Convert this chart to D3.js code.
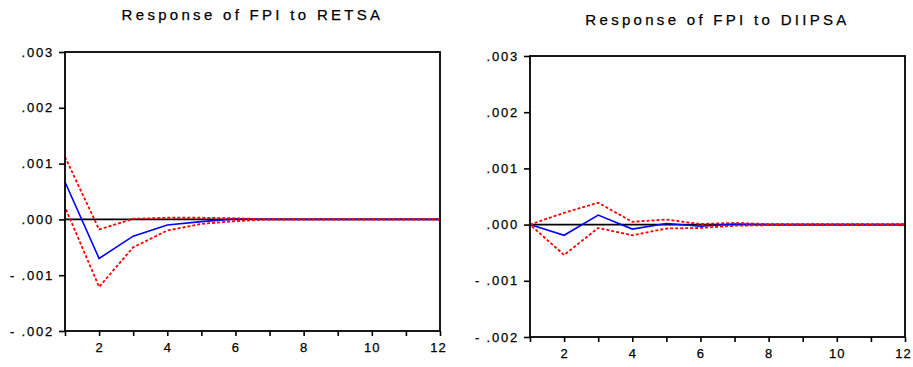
<!DOCTYPE html>
<html>
<head>
<meta charset="UTF-8">
<script src="https://cdn.jsdelivr.net/npm/d3@7"></script>
<style>
  body { margin: 0; background: #fff; }
  .title { font-family: "Liberation Sans", Arial, sans-serif; font-size: 15px; letter-spacing: 3.3px; fill: #000; stroke: #000; stroke-width: 0.25px; }
  .tick text { font-family: "Liberation Sans", Arial, sans-serif; font-size: 13px; letter-spacing: 1.8px; fill: #000; stroke: #000; stroke-width: 0.25px; }
  .x-axis .tick text { letter-spacing: 1px; }
</style>
</head>
<body>
<svg id="chart" width="913" height="367"></svg>
<script>
// horizon (periods)
var periods = [1, 2, 3, 4, 5, 6, 7, 8, 9, 10, 11, 12];
var yTicks = [-0.002, -0.001, 0, 0.001, 0.002, 0.003];
var yTickLabels = ["- .002", "- .001", ".000", ".001", ".002", ".003"];
var xTickLabels = ["", "2", "", "4", "", "6", "", "8", "", "10", "", "12"];

// Response of FPI to RETSA
var retsaResp  = [0.00067, -0.00070, -0.00030, -0.00010, -0.00004, 0.00001, 0, 0, 0, 0, 0, 0];
var retsaUpper = [0.00112, -0.00018, 0.00001, 0.00003, 0.00003, 0.00002, 0, 0, 0, 0, 0, 0];
var retsaLower = [0.00022, -0.00121, -0.00050, -0.00020, -0.00008, -0.00003, 0, 0, 0, 0, 0, 0];

// Response of FPI to DIIPSA
var diipResp  = [0, -0.00019, 0.00017, -0.00008, 0.00002, -0.00003, 0.00001, 0, 0, 0, 0, 0];
var diipUpper = [0, 0.00021, 0.00039, 0.00005, 0.00009, 0.00001, 0.00003, 0.00001, 0.00001, 0.00001, 0.00001, 0.00001];
var diipLower = [0, -0.00054, -0.00006, -0.00019, -0.00007, -0.00006, -0.00002, -0.00001, -0.00001, -0.00001, -0.00001, -0.00001];

var svg = d3.select("#chart");

function drawPanel(opt) {
  var x = d3.scaleLinear().domain([1, 12]).range([opt.left, opt.right]);
  var y = d3.scaleLinear().domain([-0.002, 0.003]).range([opt.bottom, opt.top]);
  var g = svg.append("g");

  g.append("text")
    .attr("class", "title")
    .attr("x", (opt.left + opt.right) / 2)
    .attr("y", opt.titleY)
    .attr("text-anchor", "middle")
    .text(opt.title);

  // zero line
  g.append("line")
    .attr("x1", opt.left).attr("x2", opt.right)
    .attr("y1", y(0)).attr("y2", y(0))
    .attr("stroke", "#000").attr("stroke-width", 1.6);

  var line = d3.line()
    .x(function(d, i) { return x(periods[i]); })
    .y(function(d) { return y(d); });

  g.append("path").datum(opt.resp)
    .attr("d", line).attr("fill", "none")
    .attr("stroke", "#0000ff").attr("stroke-width", 1.6);
  g.append("path").datum(opt.upper)
    .attr("d", line).attr("fill", "none")
    .attr("stroke", "#ff0000").attr("stroke-width", 1.8)
    .attr("stroke-dasharray", "3,2");
  g.append("path").datum(opt.lower)
    .attr("d", line).attr("fill", "none")
    .attr("stroke", "#ff0000").attr("stroke-width", 1.8)
    .attr("stroke-dasharray", "3,2").attr("stroke-dashoffset", 2.5);

  // frame
  g.append("rect")
    .attr("x", opt.left).attr("y", opt.top)
    .attr("width", opt.right - opt.left).attr("height", opt.bottom - opt.top)
    .attr("fill", "none").attr("stroke", "#000").attr("stroke-width", 1.8);

  var yAxis = d3.axisLeft(y).tickValues(yTicks).tickSize(6).tickPadding(5)
    .tickFormat(function(d, i) { return yTickLabels[i]; });
  g.append("g").attr("transform", "translate(" + opt.left + ",0)").call(yAxis)
    .call(function(a) { a.select(".domain").remove(); })
    .call(function(a) { a.selectAll("line").attr("stroke-width", 1.6); });

  var xAxis = d3.axisBottom(x).tickValues(periods).tickSize(5).tickPadding(7)
    .tickFormat(function(d, i) { return xTickLabels[i]; });
  var xg = g.append("g").attr("class", "x-axis")
    .attr("transform", "translate(0," + opt.bottom + ")").call(xAxis);
  xg.select(".domain").remove();
  xg.selectAll("line").attr("stroke-width", 1.6);
  // keep the last label inside the window
  xg.selectAll(".tick text").filter(function(d) { return d === 12; }).attr("dx", "-2");
}

drawPanel({
  title: "Response of FPI to RETSA",
  left: 65, right: 440, top: 52, bottom: 331, titleY: 20,
  resp: retsaResp, upper: retsaUpper, lower: retsaLower
});

drawPanel({
  title: "Response of FPI to DIIPSA",
  left: 530, right: 905, top: 56, bottom: 337, titleY: 25,
  resp: diipResp, upper: diipUpper, lower: diipLower
});
</script>
</body>
</html>
